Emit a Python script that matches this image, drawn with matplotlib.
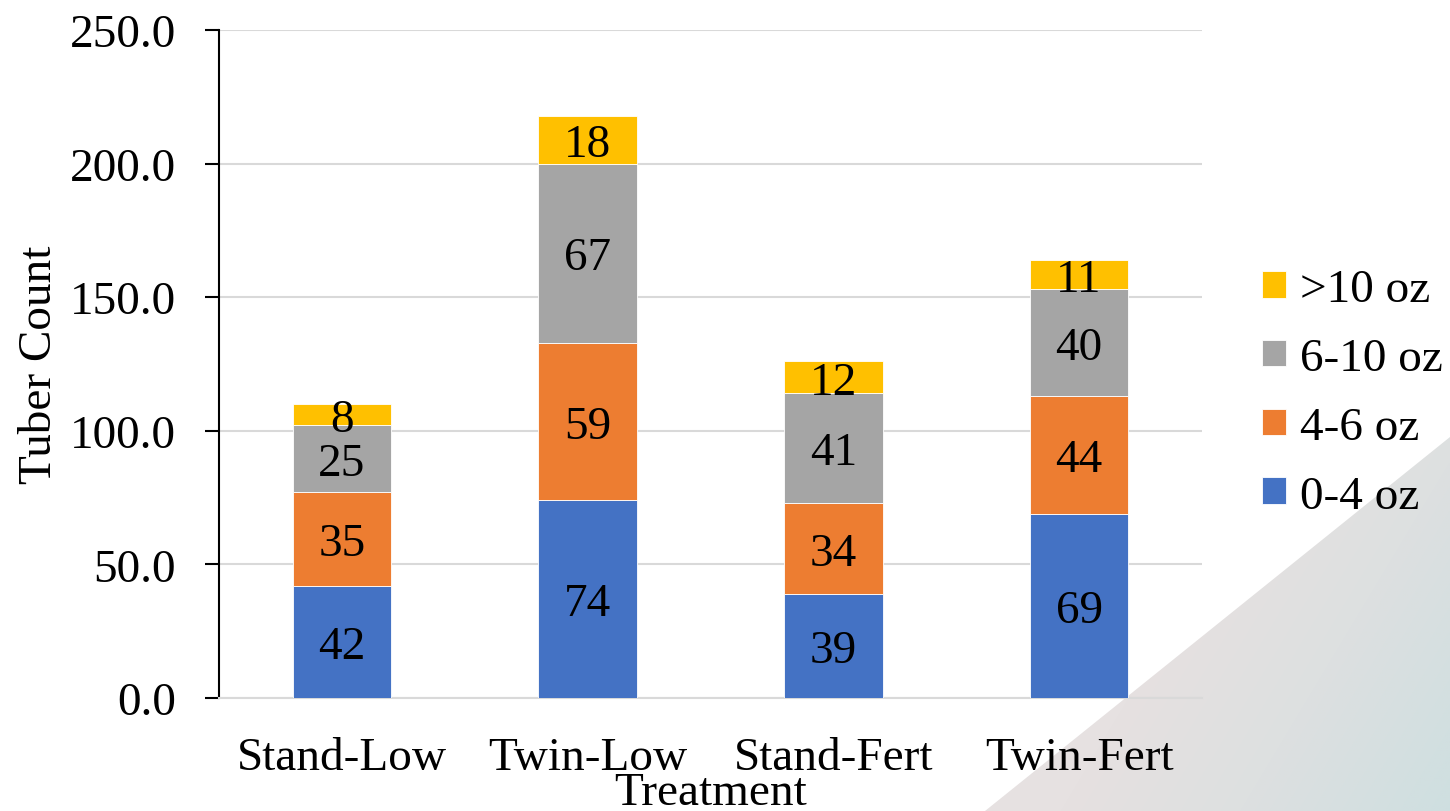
import numpy as np
import matplotlib
matplotlib.use("Agg")
import matplotlib.pyplot as plt
from matplotlib.patches import Polygon

plt.rcParams['font.family'] = ['Liberation Serif', 'DejaVu Serif']

treatments = ["Stand-Low", "Twin-Low", "Stand-Fert", "Twin-Fert"]
size_classes = ["0-4 oz", "4-6 oz", "6-10 oz", ">10 oz"]
oz_0_4 = [42, 74, 39, 69]
oz_4_6 = [35, 59, 34, 44]
oz_6_10 = [25, 67, 41, 40]
oz_10_plus = [8, 18, 12, 11]
colors = ["#4472C4", "#ED7D31", "#A5A5A5", "#FFC000"]
y_ticks = [0, 50, 100, 150, 200, 250]

W, H = 1450, 812
fig = plt.figure(figsize=(W / 100, H / 100), dpi=100)

# decorative gradient triangle in the lower-right corner
bg = fig.add_axes([0, 0, 1, 1], zorder=0)
bg.set_xlim(0, W)
bg.set_ylim(H, 0)
bg.axis("off")
x0, x1, y0, y1 = 985, W, 438, H
gx, gy = np.meshgrid(np.linspace(x0, x1, 240), np.linspace(y0, y1, 200))
u = (gx - x0) + 0.6 * (gy - y0)
stops = [0, 300, 480, 640, 700]
reds = [234, 230, 221, 210, 206]
greens = [226, 225, 224, 223, 223]
blues = [226, 225, 224, 224, 224]
grad = np.dstack([np.interp(u, stops, reds), np.interp(u, stops, greens),
                  np.interp(u, stops, blues)]) / 255
im = bg.imshow(grad, extent=[x0, x1, y1, y0], aspect="auto", interpolation="bilinear")
tri = Polygon([[x0, y1], [x1, y1], [x1, y0]], closed=True, transform=bg.transData,
              facecolor="none", edgecolor="none")
bg.add_patch(tri)
im.set_clip_path(tri)

ax = fig.add_axes([219 / W, 1 - 699 / H, (1202 - 219) / W, (699 - 31) / H], zorder=1)
ax.set_facecolor("none")

series = [oz_0_4, oz_4_6, oz_6_10, oz_10_plus]
x = np.arange(len(treatments))
bottom = np.zeros(len(treatments))
handles = []
for vals, col, name in zip(series, colors, size_classes):
    bars = ax.bar(x, vals, width=0.4, bottom=bottom, color=col, label=name,
                  edgecolor="white", linewidth=0.6, zorder=3)
    texts = ax.bar_label(bars, labels=[f"{v:d}" for v in vals], label_type="center",
                         fontsize=34, color="black")
    for txt in texts:
        txt.set_va("center_baseline")
    handles.append(bars)
    bottom += np.array(vals)

ax.set_xlim(-0.5, len(treatments) - 0.5)
ax.set_ylim(0, 250)
ax.set_yticks(y_ticks)
ax.set_yticklabels([f"{v:.1f}" for v in y_ticks])
ax.yaxis.grid(True, color="#D9D9D9", linewidth=1.5, zorder=0)
ax.set_axisbelow(True)

for s in ["top", "right"]:
    ax.spines[s].set_visible(False)
ax.spines["bottom"].set_color("#D9D9D9")
ax.spines["bottom"].set_linewidth(1.5)
ax.spines["left"].set_color("black")
ax.spines["left"].set_linewidth(1.5)

ax.tick_params(axis="y", length=10, width=1.5, pad=21, labelsize=34)
ax.tick_params(axis="x", length=0, pad=28, labelsize=34)
ax.set_xticks(x)
ax.set_xticklabels(treatments)

ax.set_xlabel("Treatment", fontsize=34, labelpad=-6)
ax.set_ylabel("Tuber Count", fontsize=34, labelpad=6)

leg = fig.legend(handles[::-1], size_classes[::-1], loc="center left",
                 bbox_to_anchor=(1262 / W, 1 - 394 / H), frameon=False,
                 fontsize=34, handlelength=0.5, handleheight=0.5,
                 handletextpad=0.3, labelspacing=0.56, borderpad=0,
                 borderaxespad=0)

fig.savefig("out.png", dpi=100)
